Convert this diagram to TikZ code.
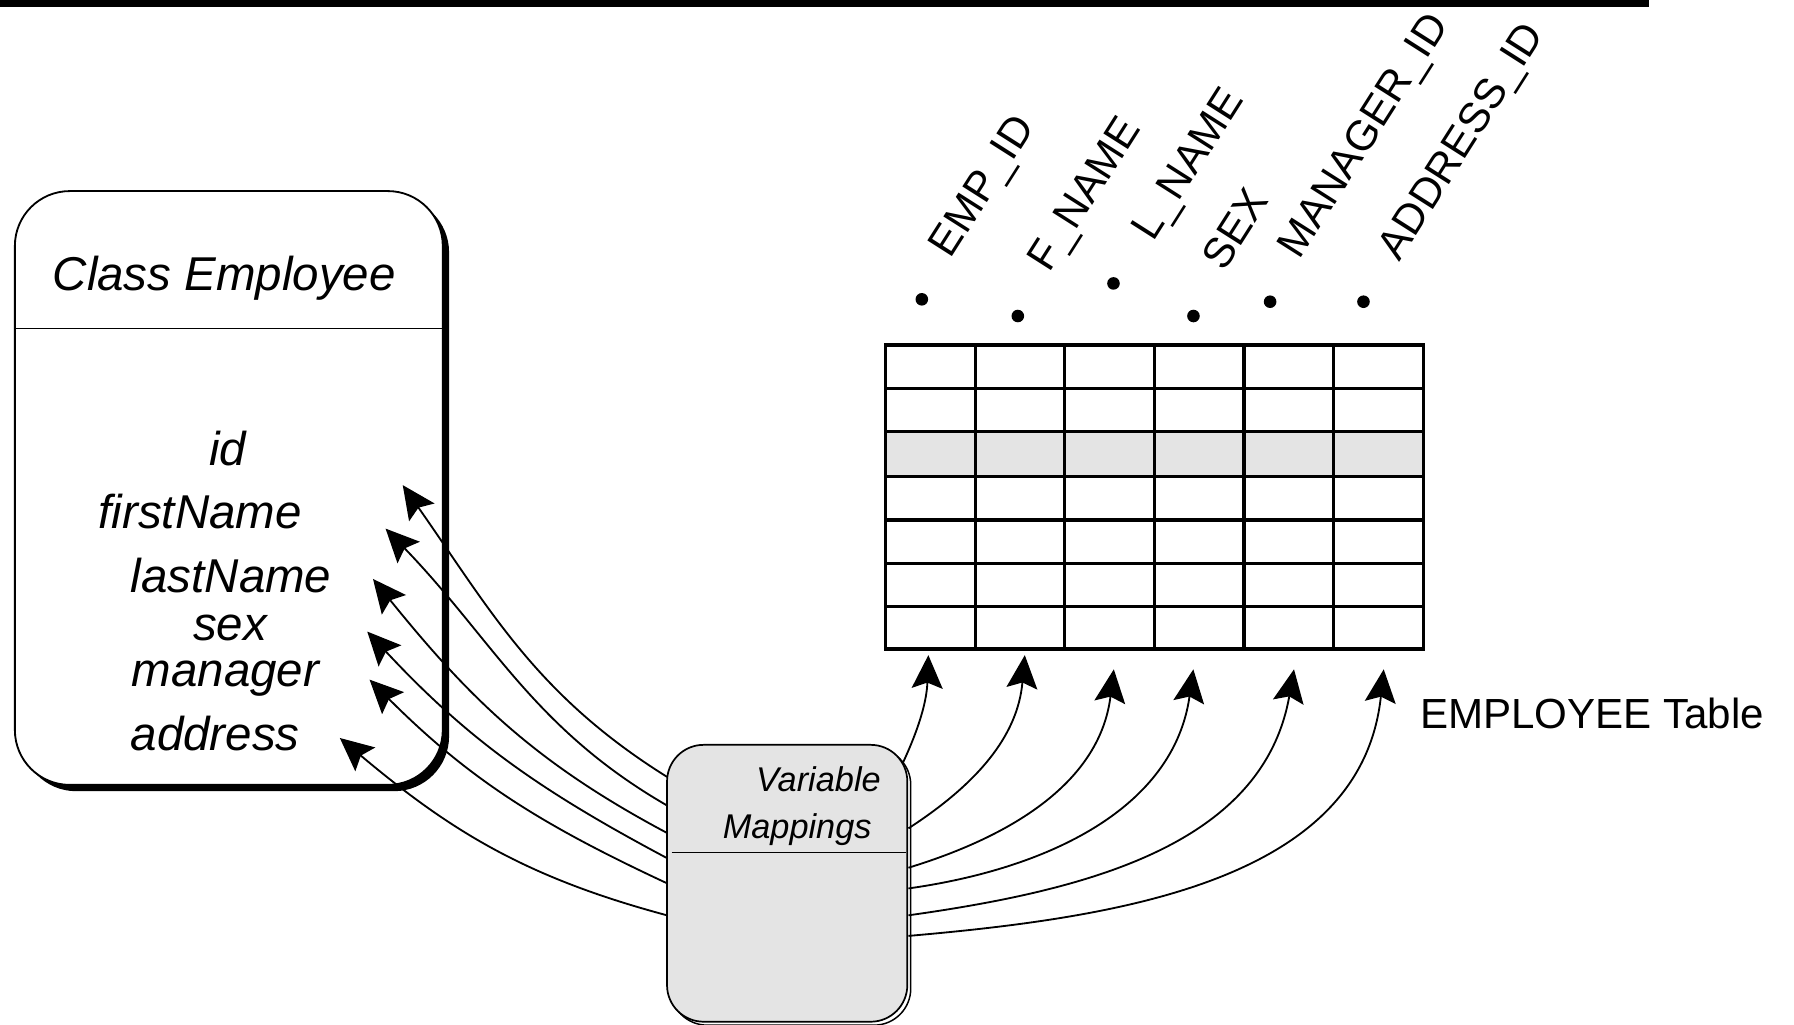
\documentclass[tikz,border=0pt]{standalone}
\usepackage{fontspec}
\setmainfont{Liberation Sans}
\usetikzlibrary{arrows.meta}

\definecolor{panelgray}{RGB}{228,228,228}

\begin{document}
\begin{tikzpicture}[x=1pt,y=1pt,
  conn/.style={line width=1.6pt, -{Stealth[length=29pt,width=27pt,inset=5pt]}},
  attr/.style={font=\fontsize{41.5}{41.5}\selectfont\itshape, inner sep=0pt, anchor=base},
  colhead/.style={font=\fontsize{37}{37}\selectfont, inner sep=0pt, anchor=base west, rotate=57.5},
  cell/.style={line width=2.8pt, line cap=rect},
]
\useasboundingbox (0,0) rectangle (1568,-895);

% top rule
\fill (0,0) rectangle (1441,-6.5);

% ---- class box (shadow, body, divider)
\fill[rounded corners=48pt] (18.5,-172.5) rectangle (392.5,-691.5);
\draw[fill=white, line width=1.6pt, rounded corners=48pt] (13,-167) rectangle (387,-686);
\draw[line width=1.5pt] (13,-287) -- (387,-287);

\node[attr] (cname) at (196,-254) {Class Employee};
\node[attr] (aid)   at (199,-407) {id};
\node[attr] (afn)   at (175,-462) {firstName};
\node[attr] (aln)   at (202,-518) {lastName};
\node[attr] (asex)  at (201,-560) {sex};
\node[attr] (amgr)  at (197,-600) {manager};
\node[attr] (aadr)  at (188,-656) {address};

% ---- table
\fill[panelgray] (774,-377.4) rectangle (1244,-416.7);
\foreach \i in {0,...,6}
  \draw[cell] ({774+\i*78.333},-301.6) -- ({774+\i*78.333},-567.3);
\foreach \yy in {301.6,339.5,377.4,416.7,454.5,492.4,530.3,567.3}
  \draw[cell] (774,-\yy) -- (1244,-\yy);

% column markers
\foreach \px/\py in {805.7/261.6, 889.6/276.2, 973.2/247.7, 1043.1/276.2, 1110.1/263.7, 1191.7/263.7}
  \fill (\px,-\py) circle[radius=5.5pt];

% column headers
\node[colhead] (hemp) at (831,-227)    {EMP\_ID};
\node[colhead] (hfn)  at (917,-239)    {F\_NAME};
\node[colhead] (hln)  at (1008,-212)   {L\_NAME};
\node[colhead] (hsex) at (1070,-238)   {SEX};
\node[colhead] (hmgr) at (1135.5,-228) {MANAGER\_ID};
\node[colhead] (hadr) at (1223,-229.5) {ADDRESS\_ID};

\node[font=\fontsize{36.8}{36.8}\selectfont, anchor=base west, inner sep=0pt] (tname) at (1241,-637) {EMPLOYEE Table};

% ---- connector end points
\coordinate (vl1) at (583,-679);   \coordinate (tl1) at (352,-424);
\coordinate (vl2) at (583,-704);   \coordinate (tl2) at (337,-462);
\coordinate (vl3) at (583,-728);   \coordinate (tl3) at (326,-506);
\coordinate (vl4) at (583,-750);   \coordinate (tl4) at (321,-552);
\coordinate (vl5) at (583,-772);   \coordinate (tl5) at (323,-594);
\coordinate (vl6) at (583,-800);   \coordinate (tl6) at (297,-645);

\coordinate (vr1) at (789,-667);   \coordinate (tr1) at (811.4,-572.6);
\coordinate (vr2) at (794,-724);   \coordinate (tr2) at (895.7,-572.6);
\coordinate (vr3) at (794,-758.4); \coordinate (tr3) at (973.5,-585);
\coordinate (vr4) at (794,-776.5); \coordinate (tr4) at (1043,-585);
\coordinate (vr5) at (794,-800);   \coordinate (tr5) at (1131,-585);
\coordinate (vr6) at (794,-818);   \coordinate (tr6) at (1209.4,-585);

% mappings into the class attributes
\draw[conn] (vl1) to[out=148,in=-55] (tl1);
\draw[conn] (vl2) to[out=150,in=-46] (tl2);
\draw[conn] (vl3) to[out=152,in=-51] (tl3);
\draw[conn] (vl4) to[out=152,in=-47] (tl4);
\draw[conn] (vl5) to[out=155,in=-45] (tl5);
\draw[conn] (vl6) to[out=165,in=-40] (tl6);

% mappings into the table columns
\draw[conn] (vr1) to[out=65,in=-92] (tr1);
\draw[conn] (vr2) to[out=33,in=-95] (tr2);
\draw[conn] (vr3) to[out=17,in=-97] (tr3);
\draw[conn] (vr4) to[out=8,in=-98] (tr4);
\draw[conn] (vr5) to[out=8,in=-100] (tr5);
\draw[conn] (vr6) to[out=5,in=-96] (tr6);

% ---- variable mappings box
\draw[line width=1.3pt, rounded corners=32pt] (586,-654) rectangle (796,-896);
\node[draw, fill=panelgray, line width=1.5pt, rounded corners=32pt,
      minimum width=210pt, minimum height=242pt, inner sep=0pt] (vm) at (688,-772) {};
\draw[line width=1.5pt] (587,-745) -- (792,-745);
\node[font=\fontsize{30}{30}\selectfont\itshape, anchor=base east, inner sep=0pt] (vmt1) at (770,-692) {Variable};
\node[font=\fontsize{30}{30}\selectfont\itshape, anchor=base east, inner sep=0pt] (vmt2) at (762,-733) {Mappings};
\end{tikzpicture}
\end{document}
